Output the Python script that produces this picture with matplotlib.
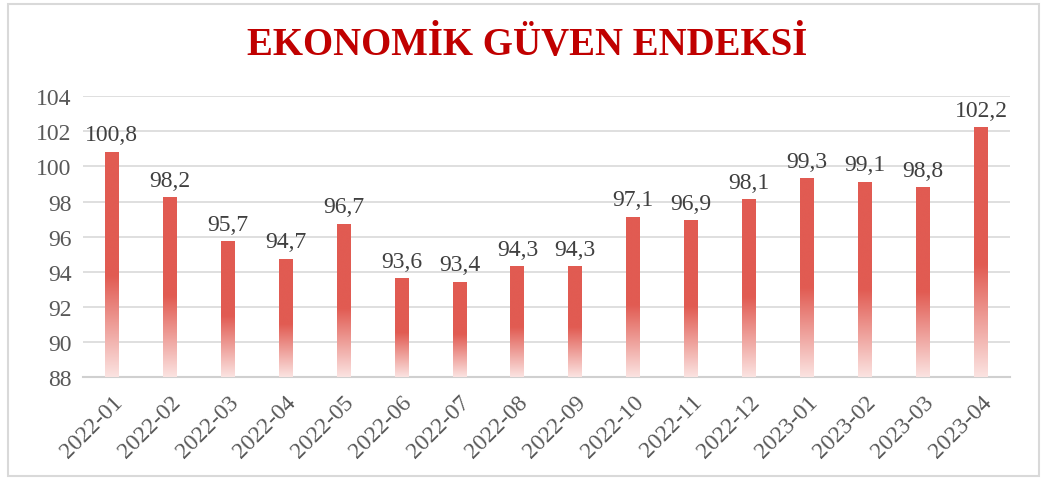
import numpy as np
import matplotlib
matplotlib.use("Agg")
import matplotlib.pyplot as plt
from matplotlib.colors import LinearSegmentedColormap
from matplotlib.patches import Rectangle

# ----------------------------------------------------------
# Data
# ----------------------------------------------------------
months = [
    "2022-01", "2022-02", "2022-03", "2022-04", "2022-05", "2022-06",
    "2022-07", "2022-08", "2022-09", "2022-10", "2022-11", "2022-12",
    "2023-01", "2023-02", "2023-03", "2023-04",
]
index_values = [
    100.8, 98.2, 95.7, 94.7, 96.7, 93.6, 93.4, 94.3,
    94.3, 97.1, 96.9, 98.1, 99.3, 99.1, 98.8, 102.2,
]
y_ticks = [88, 90, 92, 94, 96, 98, 100, 102, 104]

title = "EKONOMİK GÜVEN ENDEKSİ"

plt.rcParams["font.family"] = ["Liberation Serif", "DejaVu Serif"]

bar_red = "#E15B52"
grad = LinearSegmentedColormap.from_list(
    "fade", [(0.0, "#FBE3E1"), (0.45, bar_red), (1.0, bar_red)]
)

fig = plt.figure(figsize=(10.62, 4.81), dpi=100)
ax = fig.add_axes([0.078, 0.214, 0.873, 0.584])

bar_w = 0.24
ymin = y_ticks[0]
x = np.arange(len(months))

# gradient bars: draw invisible bars, then fill with a vertical gradient
bars = ax.bar(x, np.array(index_values) - ymin, bottom=ymin, width=bar_w,
              color="none", zorder=3)
ramp = np.linspace(0, 1, 256).reshape(-1, 1)
for b in bars:
    x0, y0 = b.get_x(), b.get_y()
    ax.imshow(ramp, cmap=grad, origin="lower", aspect="auto",
              extent=(x0, x0 + b.get_width(), y0, y0 + b.get_height()),
              zorder=3, interpolation="bicubic")

for xi, v in zip(x, index_values):
    ax.annotate(f"{v:.1f}".replace(".", ","), (xi, v), xytext=(0, 5),
                textcoords="offset points", ha="center", va="bottom",
                fontsize=17, color="#404040", zorder=4)

ax.set_xlim(-0.5, len(months) - 0.5)
ax.set_ylim(ymin, y_ticks[-1])
ax.set_yticks(y_ticks)
ax.set_xticks(x)
ax.set_xticklabels(months, rotation=45, ha="right", rotation_mode="anchor")
ax.tick_params(axis="both", length=0, labelsize=17, colors="#595959")
ax.tick_params(axis="x", pad=10)
ax.tick_params(axis="y", pad=8)

ax.grid(axis="y", color="#D9D9D9", linewidth=1.2, zorder=0)
ax.set_axisbelow(True)
for side in ["top", "right", "left"]:
    ax.spines[side].set_visible(False)
ax.spines["bottom"].set_color("#D0D0D0")
ax.spines["bottom"].set_linewidth(1.5)

fig.text(0.496, 0.905, title, ha="center", va="center", fontsize=28,
         fontweight="bold", color="#C00000")

# outer chart border
fig.patches.append(Rectangle((0.008, 0.008), 0.97, 0.982, transform=fig.transFigure,
                             fill=False, edgecolor="#D9D9D9", linewidth=1.5))

fig.savefig("out.png", dpi=100)
